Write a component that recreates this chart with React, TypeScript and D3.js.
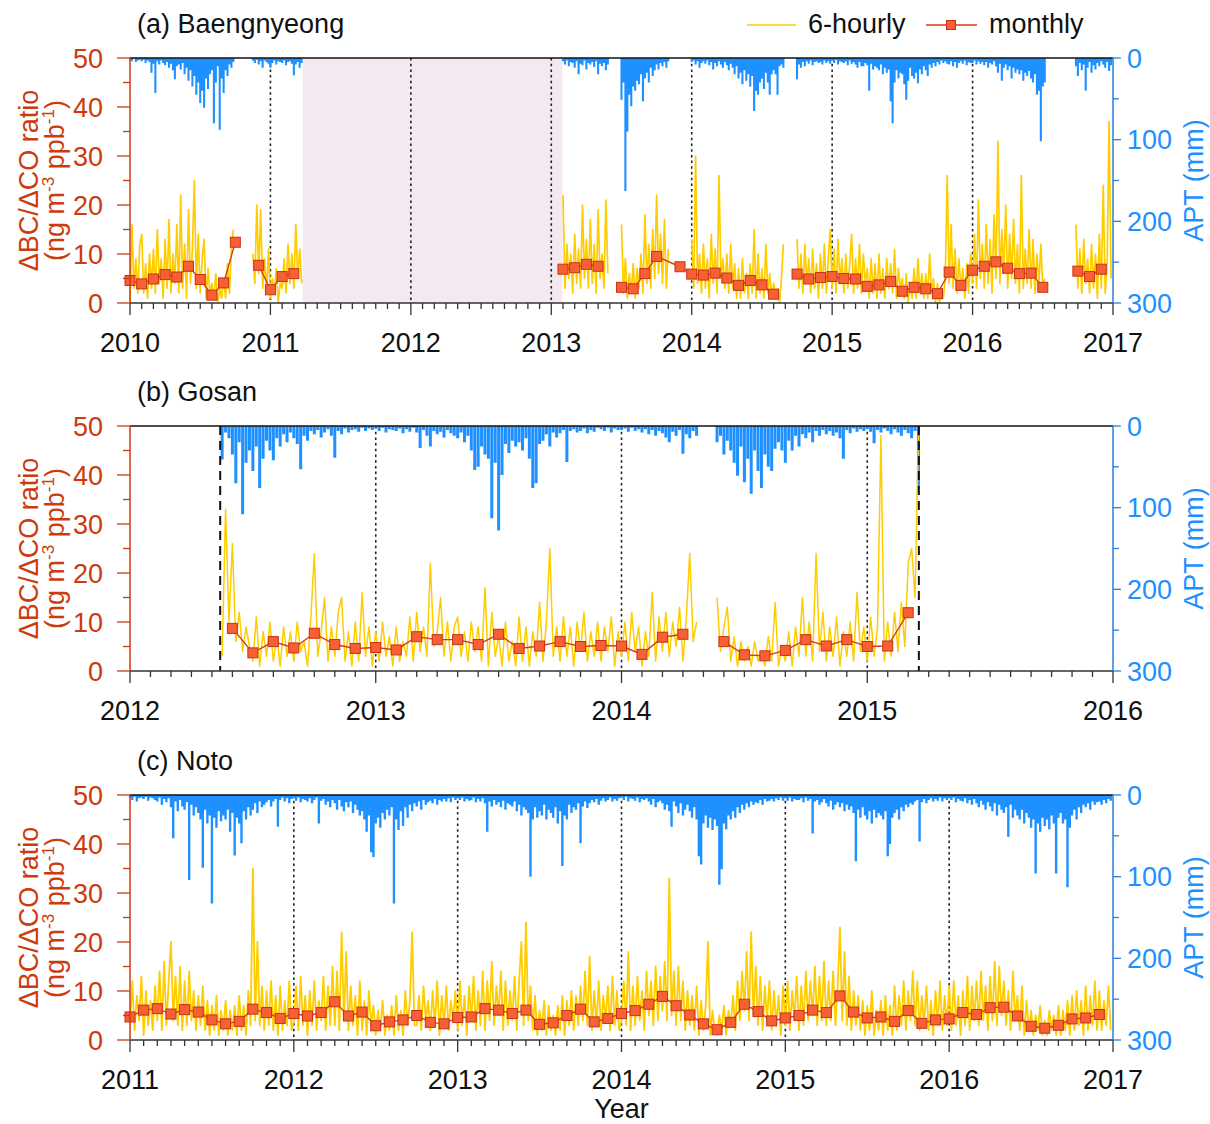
import React from "react";
import * as d3 from "d3";

// ---------- DATA ----------
// 6-hourly series, sampled every 1/72 year (~5 days); segments start at step index from panel start year
const STEP = 1 / 72;

// (a) Baengnyeong, panel years 2010-2017
const bnStarts = [0, 63, 222, 252, 288, 342, 485];
const bnRatio1 = [0,16,3,9,2,12, 14,2,8,1,10,3, 11,2,15,4,9,1, 13,3,17,2,10,4, 16,2,22,3,12,1, 19,4,11,25,3,14, 2,9,13,1,7,2, 4,1,6,0,3,1, 5,1,8,2,11,15];
const bnRatio2 = [10,4,20, 6,19,3,9,2,11, 1,5,2,7,0,4, 3,9,2,12,4,10, 3,16,5,11,4];
const bnRatio3 = [22,3,12,5,10,2,14,4,11,3,20,5,13,3,17,4,12,2,19,5,10,3,21,6];
const bnRatio4 = [16,2,9,1,6,2,8,1,7,3,10,2,18,4,12,3,15,5,22,6,14,4,17,3,11];
const bnRatio5 = [13,3,30,4,10,2, 12,3,9,1,14,4, 11,2,26,5,9,3, 10,2,12,3,8,1, 7,1,9,2,6,1, 8,2,15,1,10,2, 7,1,12,2,6,1, 4,1,3,0,5,12];
const bnRatio6 = [13,3,10,2,12,4, 9,2,11,3,8,1, 10,3,12,2,9,15, 3,11,2,13,4,9, 2,10,3,8,14,2, 9,3,12,2,10,4, 7,1,9,2,8,1, 10,2,7,1,9,3, 8,2,11,1,7,3, 5,1,6,0,4,1, 7,1,9,2,6,1, 6,1,10,2,5,0, 4,0,3,1,5,26, 4,16,3,11,2,9, 3,7,1,8,2,10, 4,14,3,21,5,12, 3,16,4,13,2,18, 5,33,4,15,6,20, 3,14,5,17,4,12, 2,26,3,11,4,15, 3,13,2,10,4,12, 3,5];
const bnRatio7 = [16,3,11,2,13,4,9, 2,12,3,10,1,14, 3,24,2,8,37,5];
const bnApt1 = [2,4,1,5,3,2, 4,2,6,3,5,18, 7,43,4,8,3,6, 9,5,12,7,15,26, 10,8,14,6,20,12, 28,15,35,22,45,30, 55,40,61,25,38,20, 15,80,30,10,88,25, 43,15,22,8,12,5];
const bnApt2 = [3,6,2, 8,4,12,3,5,7, 12,6,3,8,4,5, 6,3,9,5,4,7, 21,8,5,12,6];
const bnApt3 = [4,8,3,10,5,6,12,4,20,7,9,3,14,6,8,5,11,4,20,7,10,6,15,8];
const bnApt4 = [51,30,163,90,45,59,35,40,28,32,20,53,25,18,30,12,22,15,8,14,6,10,5,12,4];
const bnApt5 = [5,3,8,4,12,6, 4,7,3,9,5,14, 6,10,4,8,12,5, 9,15,7,12,20,10, 25,18,32,15,28,20, 35,22,65,40,45,30, 25,38,18,30,45,20, 15,20,45,10,8,12];
const bnApt6 = [26,8,12,5,10,4, 7,3,9,5,4,6, 5,8,3,6,4,7, 3,6,2,8,4,5, 6,4,9,3,7,5, 8,12,5,10,10,6, 9,40,7,14,10,12, 15,8,20,12,18,14, 53,80,30,15,25,18, 20,32,51,28,12,22, 25,18,31,14,20,10, 15,22,8,12,6,10, 5,8,3,6,4,7, 8,4,10,5,12,6, 4,7,3,9,5,6, 6,3,8,4,7,5, 9,5,12,6,8,4, 10,18,7,28,12,8, 15,10,25,12,18,14, 20,15,28,18,22,16, 25,30,20,45,40,102, 35,30];
const bnApt7 = [10,22,6,15,8,40,12,5,18,9,14,6,10,4,8,12,5,16,9];
const bnRatio = [bnRatio1, bnRatio2, bnRatio3, bnRatio4, bnRatio5, bnRatio6, bnRatio7];
const bnApt = [bnApt1, bnApt2, bnApt3, bnApt4, bnApt5, bnApt6, bnApt7];
// monthly means (segments of connected months; start "year-month")
const bnMonthlyStarts = ["2010-01", "2010-12", "2013-02", "2013-07", "2014-10", "2016-10"];
const bnMonthly = [
  [4.6, 3.9, 4.9, 5.8, 5.3, 7.5, 4.8, 1.6, 4.1, 12.4],
  [7.7, 2.7, 5.4, 6.0],
  [6.9, 7.2, 7.9, 7.5],
  [3.2, 2.9, 6.0, 9.5, null, 7.4, 5.9, 5.7, 6.1, 5.1, 3.6, 4.6, 3.7, 1.8],
  [5.9, 4.9, 5.2, 5.4, 5.0, 4.9, 3.4, 3.7, 4.4, 2.4, 3.2, 2.9, 1.9, 6.3, 3.6, 6.7, 7.5, 8.4, 7.1, 6.0, 6.1, 3.2],
  [6.5, 5.4, 6.9],
];
const bnGap = [2011.23, 2013.08];

// (b) Gosan, panel years 2012-2016
const gsStarts = [27, 172];
const gsRatio1 = [3,33,10, 26,6,12,4,9,5, 2,11,1,8,3,10, 2,7,1,9,3,8, 2,10,4,6,1,11, 24,3,8,15,2,9, 3,12,15,2,8,1, 10,2,16,3,9,1, 8,2,10,3,7,1, 9,2,6,3,11,2, 12,4,9,3,22,5, 8,15,3,10,2,9, 11,3,8,2,10,4, 9,2,17,1,12,3, 7,1,10,2,6,1, 11,2,9,1,8,3, 14,2,10,25,3,9, 2,11,3,9,1,10, 4,12,2,8,3,10, 2,9,4,11,1,8, 3,10,2,12,4,9, 1,8,3,16,2,11, 4,12,3,10,5,13, 2,11,24,6,10];
const gsRatio2 = [15,4, 9,13,2,7,1,6, 2,5,1,6,2,4, 1,7,2,14,1,5, 2,8,1,9,3,15, 3,10,2,24,4,12, 2,9,3,11,1,8, 3,10,2,16,4,9, 2,11,3,9,48,2, 10,3,12,4,14,5, 22,25,15,48];
const gsApt1 = [41,8,15, 35,70,20,108,45,30, 55,25,76,40,18,30, 42,15,25,10,20,8, 15,22,53,12,18,6, 10,5,14,8,4,12, 39,6,10,3,8,5, 4,7,2,6,3,5, 3,6,2,8,4,5, 6,3,9,4,7,2, 8,27,5,12,25,6, 10,7,14,5,9,12, 15,8,20,12,30,54, 50,25,35,40,113,45, 128,60,22,33,18,25, 20,30,15,40,76,70, 22,18,10,25,8,14, 9,5,44,6,4,8, 6,3,9,5,7,2, 4,6,2,8,3,5, 5,3,7,2,6,4, 8,4,10,5,12,6, 9,14,20,7,12,5, 34,10,15,6,12];
const gsApt2 = [20,12, 35,18,30,45,61,25, 69,40,83,30,55,76, 35,50,55,28,20,30, 45,18,30,12,25,10, 15,8,20,6,12,5, 10,6,12,8,15,40, 5,9,3,7,4,6, 4,7,21,5,8,3, 6,10,4,8,12,5, 9,15,6,74];
const gsRatio = [gsRatio1, gsRatio2];
const gsApt = [gsApt1, gsApt2];
const gsMonthlyStarts = ["2012-06", "2014-06"];
const gsMonthly = [
  [8.7, 3.7, 6.0, 4.7, 7.7, 5.4, 4.6, 4.8, 4.3, 7.0, 6.4, 6.4, 5.4, 7.5, 4.6, 5.1, 6.0, 5.0, 5.2, 5.1, 3.4, 6.9, 7.5],
  [6.0, 3.3, 3.1, 4.2, 6.4, 5.1, 6.4, 5.0, 5.1, 11.9],
];
const gsPeriod = [2012.367, 2015.21];

// (c) Noto, panel years 2011-2017 (continuous)
const ntRatio2011 = [3,12,2,9,4,13, 1,10,3,8,2,11, 4,14,2,16,3,12, 20,4,13,3,15,2, 12,3,14,4,10,2, 9,3,11,2,8,1, 7,2,9,1,6,2, 8,1,6,2,7,1, 9,2,7,1,10,3, 35,4,20,3,11,2, 10,3,12,2,9,1, 11,2,8,3,12,2];
const ntRatio2012 = [4,11,2,13,3,9, 1,10,3,12,2,8, 4,13,2,11,3,15, 3,14,2,22,4,18, 2,11,3,9,1,12, 2,8,1,10,3,7, 1,6,2,8,1,5, 2,7,1,9,2,6, 1,10,3,8,22,3, 3,9,2,11,4,8, 2,10,3,12,1,9, 3,11,2,8,4,10];
const ntRatio2013 = [2,12,3,9,1,11, 4,13,2,10,3,14, 2,12,4,16,3,11, 5,14,2,12,3,10, 4,13,2,12,20,3, 24,4,11,2,9,1, 6,2,8,1,7,2, 5,1,7,2,9,1, 8,3,10,2,9,3, 11,4,14,3,17,2, 10,3,12,2,9,4, 11,2,13,3,10,2];
const ntRatio2014 = [4,12,3,18,2,11, 3,13,4,10,2,14, 5,12,3,15,4,13, 6,16,4,33,5,14, 3,15,4,12,2,10, 3,9,2,11,1,8, 2,7,20,1,6,2, 1,5,2,7,1,6, 3,9,2,12,4,14, 6,18,4,22,5,15, 3,13,2,11,4,12, 2,10,3,9,1,11];
const ntRatio2015 = [3,12,2,10,4,13, 2,11,3,14,4,12, 5,15,3,13,4,16, 3,12,4,14,3,11, 23,4,18,3,13,2, 10,3,9,2,8,1, 7,2,10,1,6,2, 8,1,9,2,7,1, 11,2,9,3,12,2, 10,4,14,3,12,2, 9,3,11,2,8,1, 10,3,12,2,9,3];
const ntRatio2016 = [11,2,12,3,9,1, 10,3,13,2,11,4, 12,3,14,4,11,2, 13,4,16,3,15,5, 12,3,10,2,14,4, 9,2,11,1,8,2, 6,1,5,2,7,1, 4,1,6,2,5,1, 7,1,6,2,8,1, 9,2,10,3,8,1, 11,2,9,3,12,2, 10,2,8,3,11,2];
const ntApt2011 = [3,6,2,8,4,3, 5,2,7,3,4,6, 8,3,12,5,9,4, 15,53,8,20,6,14, 18,9,104,12,25,15, 22,30,89,18,35,25, 133,28,40,20,32,25, 30,18,45,22,74,28, 35,59,20,30,15,25, 18,10,22,8,15,12, 9,6,14,8,5,39, 6,3,8,4,10,5];
const ntApt2012 = [4,7,3,9,5,6, 8,4,10,6,3,35, 7,5,12,8,15,6, 10,18,6,14,20,9, 15,8,22,12,18,25, 20,30,45,25,70,76, 35,28,40,22,30,18, 25,15,133,30,43,20, 38,15,28,12,20,10, 14,8,18,6,12,9, 7,10,5,12,6,8, 5,8,4,9,3,6];
const ntApt2013 = [4,6,3,8,5,7, 6,3,9,5,8,4, 10,45,8,14,6,12, 9,15,7,18,10,12, 14,8,20,12,25,15, 18,22,100,30,15,28, 20,25,12,30,18,22, 28,15,35,20,87,25, 30,12,22,15,18,10, 59,14,8,16,10,6, 9,5,12,7,4,8, 6,3,8,5,7,4];
const ntApt2014 = [3,6,2,8,4,5, 7,3,9,5,6,4, 8,12,5,15,9,7, 10,18,12,20,39,8, 14,22,10,25,18,12, 20,28,15,30,75,85, 35,25,40,28,43,30, 38,110,91,35,42,25, 30,20,28,15,22,12, 18,10,15,8,12,9, 10,6,12,5,8,7, 5,8,4,6,3,7];
const ntApt2015 = [4,7,3,8,5,6, 6,4,9,3,7,5, 47,8,6,12,9,5, 10,14,7,18,12,9, 15,10,20,12,18,14, 22,81,18,28,15,25, 30,20,35,18,28,22, 25,30,20,75,60,28, 22,18,30,15,20,12, 15,10,12,8,6,57, 9,5,10,6,4,8, 5,7,3,8,4,6];
const ntApt2016 = [4,6,3,9,5,7, 8,4,10,6,12,5, 10,15,7,12,18,9, 14,20,10,25,12,18, 22,15,51,12,28,18, 25,30,18,35,22,28, 40,30,96,35,45,28, 38,30,42,25,35,96, 28,22,35,30,113,40, 25,18,30,15,22,12, 15,10,18,8,12,9, 8,12,6,10,5,7];
const ntStarts = [0];
const ntRatio = [[...ntRatio2011, ...ntRatio2012, ...ntRatio2013, ...ntRatio2014, ...ntRatio2015, ...ntRatio2016]];
const ntApt = [[...ntApt2011, ...ntApt2012, ...ntApt2013, ...ntApt2014, ...ntApt2015, ...ntApt2016]];
const ntMonthlyStarts = ["2011-01"];
const ntMonthly = [[
  4.7, 6.1, 6.4, 5.3, 6.2, 5.7, 4.1, 3.3, 3.8, 6.3, 5.6, 4.4,
  5.4, 4.9, 5.6, 7.8, 4.9, 5.7, 2.9, 3.7, 4.1, 5.0, 3.6, 3.3,
  4.6, 4.7, 6.4, 6.1, 5.4, 6.1, 3.2, 3.5, 5.0, 6.3, 3.7, 4.4,
  5.4, 6.0, 7.3, 8.9, 7.0, 5.1, 3.3, 2.1, 3.6, 7.3, 5.8, 3.9,
  4.5, 5.0, 6.1, 5.6, 9.0, 5.7, 4.5, 4.7, 3.8, 6.0, 3.4, 4.1,
  4.3, 5.6, 5.2, 6.6, 6.7, 4.9, 2.8, 2.4, 3.0, 4.3, 4.5, 5.2,
]];

const leftTicks = [0, 10, 20, 30, 40, 50];
const rightTicks = [0, 100, 200, 300];

// ---------- STYLE ----------
const FONT = "'Liberation Sans', Arial, Helvetica, sans-serif";
const RED = "#cc3a0e";
const BLUE = "#1e90ff";
const BLUE_AXIS = "#2b7fd6";
const YELLOW = "#ffcc00";
const MLINE = "#d63c18";
const MFILL = "#f75f35";
const MSTROKE = "#c63212";
const W = 1210, H = 1124;
const X0 = 130, X1 = 1113, PH = 245;
const FS = 27;
const MS = 10;

type PanelProps = {
  top: number; y0: number; y1: number; title: string;
  starts: number[]; ratio: number[][]; apt: number[][];
  mStarts: string[]; monthly: (number | null)[][];
  shade?: number[]; dashed?: number[]; barW: number; lineW: number; legend?: boolean;
};

function Panel(p: PanelProps) {
  const bottom = p.top + PH;
  const x = d3.scaleLinear().domain([p.y0, p.y1]).range([X0, X1]);
  const yL = d3.scaleLinear().domain([0, 50]).range([bottom, p.top]);
  const yR = d3.scaleLinear().domain([0, 300]).range([p.top, bottom]);
  const tOf = (s: number, i: number) => p.y0 + (s + i) * STEP;
  const line = d3.line<[number, number]>().x(d => d[0]).y(d => d[1]);

  const ratioPaths = p.ratio.map((vals, k) =>
    line(vals.map((v, i) => [x(tOf(p.starts[k], i)), yL(v)] as [number, number])) || "");
  const aptPath = p.apt.map((vals, k) =>
    vals.map((v, i) => { const xx = x(tOf(p.starts[k], i)); return `M${xx},${yR(0)}V${yR(v)}`; }).join("")).join("");

  const mSegs = p.monthly.map((vals, k) => {
    const [yy, mm] = p.mStarts[k].split("-").map(Number);
    const pts: [number, number][] = [];
    vals.forEach((v, i) => { if (v != null) pts.push([x(yy + (mm - 1 + i) / 12), yL(v)]); });
    return pts;
  });

  const years = d3.range(p.y0, p.y1 + 1);
  const months = d3.range(0, (p.y1 - p.y0) * 12 + 1).map(m => p.y0 + m / 12);
  const leftMinor = d3.range(0, 51, 5);
  const rightMinor = d3.range(0, 301, 50);

  return (
    <g>
      {p.shade && <rect x={x(p.shade[0])} y={p.top} width={x(p.shade[1]) - x(p.shade[0])} height={PH} fill="#f3e9f0" />}
      {years.slice(1, -1).map(yr => (
        <line key={yr} x1={x(yr)} x2={x(yr)} y1={p.top} y2={bottom} stroke="#222" strokeWidth={1.6} strokeDasharray="2.5,3.2" />
      ))}
      <path d={aptPath} stroke={BLUE} strokeWidth={p.barW} fill="none" />
      {ratioPaths.map((d, i) => <path key={i} d={d} stroke={YELLOW} strokeWidth={p.lineW} fill="none" strokeLinejoin="round" />)}
      {p.dashed && p.dashed.map((d, i) => (
        <line key={i} x1={x(d)} x2={x(d)} y1={p.top} y2={bottom} stroke="#111" strokeWidth={2} strokeDasharray="9,6" />
      ))}
      {mSegs.map((pts, i) => <path key={i} d={line(pts) || ""} stroke={MLINE} strokeWidth={1.4} fill="none" />)}
      {mSegs.flat().map((pt, i) => (
        <rect key={i} x={pt[0] - MS / 2} y={pt[1] - MS / 2} width={MS} height={MS} fill={MFILL} stroke={MSTROKE} strokeWidth={1} />
      ))}
      {/* frame */}
      <line x1={X0} x2={X1} y1={p.top} y2={p.top} stroke="#111" strokeWidth={1.5} />
      <line x1={X0} x2={X1} y1={bottom} y2={bottom} stroke="#333" strokeWidth={1.5} />
      <line x1={X0} x2={X0} y1={p.top} y2={bottom} stroke={RED} strokeWidth={1.5} />
      <line x1={X1} x2={X1} y1={p.top} y2={bottom} stroke={BLUE_AXIS} strokeWidth={1.5} />
      {/* x ticks */}
      {months.map((m, i) => {
        const major = i % 12 === 0;
        return <line key={i} x1={x(m)} x2={x(m)} y1={bottom} y2={bottom + (major ? 12 : 6)} stroke="#333" strokeWidth={1.3} />;
      })}
      {years.map(yr => (
        <text key={yr} x={x(yr)} y={bottom + 49} textAnchor="middle" fontSize={FS} fontFamily={FONT} fill="#111">{yr}</text>
      ))}
      {/* left axis */}
      {leftMinor.map(v => (
        <line key={v} x1={X0} x2={X0 - (v % 10 === 0 ? 13 : 7)} y1={yL(v)} y2={yL(v)} stroke={RED} strokeWidth={1.3} />
      ))}
      {leftTicks.map(v => (
        <text key={v} x={103} y={yL(v)} dy="0.36em" textAnchor="end" fontSize={FS} fontFamily={FONT} fill={RED}>{v}</text>
      ))}
      <g transform={`translate(38,${p.top + PH / 2}) rotate(-90)`}>
        <text textAnchor="middle" fontSize={FS} fontFamily={FONT} fill={RED}>ΔBC/ΔCO ratio</text>
      </g>
      <g transform={`translate(64,${p.top + PH / 2}) rotate(-90)`}>
        <text textAnchor="middle" fontSize={FS} fontFamily={FONT} fill={RED}>
          (ng m<tspan dy="-10" fontSize={17}>-3</tspan><tspan dy="10"> ppb</tspan><tspan dy="-10" fontSize={17}>-1</tspan><tspan dy="10">)</tspan>
        </text>
      </g>
      {/* right axis */}
      {rightMinor.map(v => (
        <line key={v} x1={X1} x2={X1 + (v % 100 === 0 ? 8 : 6)} y1={yR(v)} y2={yR(v)} stroke={BLUE_AXIS} strokeWidth={1.3} />
      ))}
      {rightTicks.map(v => (
        <text key={v} x={1127} y={yR(v)} dy="0.36em" textAnchor="start" fontSize={FS} fontFamily={FONT} fill={BLUE}>{v}</text>
      ))}
      <g transform={`translate(1203,${p.top + PH / 2}) rotate(-90)`}>
        <text textAnchor="middle" fontSize={FS} fontFamily={FONT} fill={BLUE}>APT (mm)</text>
      </g>
      {/* title */}
      <text x={137} y={p.top - 25} fontSize={FS} fontFamily={FONT} fill="#111">{p.title}</text>
      {p.legend && (
        <g>
          <line x1={747} x2={796} y1={p.top - 33} y2={p.top - 33} stroke={YELLOW} strokeWidth={1.5} />
          <text x={808} y={p.top - 25} fontSize={FS} fontFamily={FONT} fill="#111">6-hourly</text>
          <line x1={926} x2={977} y1={p.top - 33} y2={p.top - 33} stroke={MLINE} strokeWidth={1.5} />
          <rect x={951 - 4.5} y={p.top - 33 - 4.5} width={9} height={9} fill={MFILL} stroke={MSTROKE} />
          <text x={989} y={p.top - 25} fontSize={FS} fontFamily={FONT} fill="#111">monthly</text>
        </g>
      )}
    </g>
  );
}

export default function App() {
  return (
    <div>
      <style>{"body{margin:0;background:#fff}"}</style>
      <svg width={W} height={H} style={{ display: "block" }} xmlns="http://www.w3.org/2000/svg">
        <rect width={W} height={H} fill="#fff" />
        <Panel top={58} y0={2010} y1={2017} title="(a) Baengnyeong" starts={bnStarts} ratio={bnRatio} apt={bnApt}
          mStarts={bnMonthlyStarts} monthly={bnMonthly} shade={bnGap} barW={2.1} lineW={1.7} legend />
        <Panel top={426} y0={2012} y1={2016} title="(b) Gosan" starts={gsStarts} ratio={gsRatio} apt={gsApt}
          mStarts={gsMonthlyStarts} monthly={gsMonthly} dashed={gsPeriod} barW={3.0} lineW={1.5} />
        <Panel top={795} y0={2011} y1={2017} title="(c) Noto" starts={ntStarts} ratio={ntRatio} apt={ntApt}
          mStarts={ntMonthlyStarts} monthly={ntMonthly} barW={2.4} lineW={1.8} />
        <text x={(X0 + X1) / 2} y={1118} textAnchor="middle" fontSize={FS} fontFamily={FONT} fill="#111">Year</text>
      </svg>
    </div>
  );
}
